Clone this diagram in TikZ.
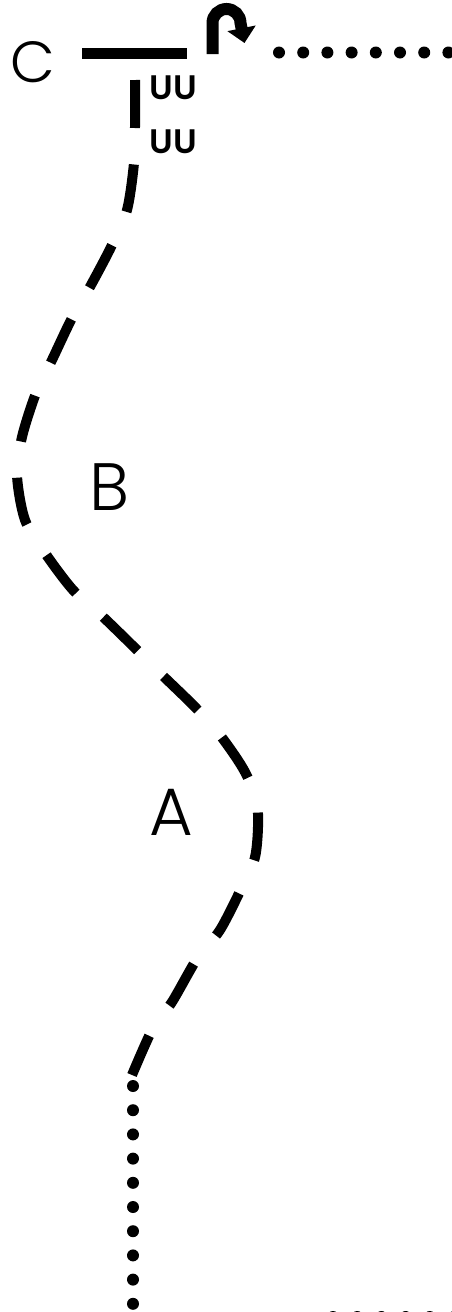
\documentclass[tikz,border=0pt]{standalone}
\usepackage{fontspec}
\setmainfont{Poppins}[UprightFont={* Light}]
\newfontfamily\uufont{Poppins}[UprightFont={* SemiBold}]
\usetikzlibrary{arrows.meta}
\tikzset{
  lbl/.style={inner sep=0pt, font=\fontsize{67}{67}\selectfont},
  lblc/.style={inner sep=0pt, font=\fontsize{58}{58}\selectfont},
  uu/.style={inner sep=0pt, font=\uufont\fontsize{34}{34}\selectfont},
  barline/.style={line width=11pt},
  hookline/.style={line width=12pt, -{Triangle[width=28pt,length=15pt]}},
  dashcurve/.style={line width=10pt, dash pattern=on 48pt off 36.5pt},
  dotline/.style={line width=12pt, line cap=round, dash pattern=on 0pt off 24.2pt},
}
\begin{document}
\begin{tikzpicture}[x=1pt,y=-1pt]
  \useasboundingbox (0,0) rectangle (452,1312);
  % labels
  \node[lblc] (C) at (33,62) {C};
  \node[lbl] (B) at (109,487) {B};
  \node[lbl] (A) at (171,812) {A};
  \node[uu] (uu1) at (173,88) {UU};
  \node[uu] (uu2) at (173,142) {UU};
  % coordinates
  \coordinate (b1) at (82,53.5);
  \coordinate (b2) at (187,53.5);
  \coordinate (hs) at (212.5,54);
  \coordinate (d1) at (279,52.5);
  \coordinate (d2) at (470,52.5);
  \coordinate (cs) at (135,80);
  \coordinate (ce) at (132,1075);
  \coordinate (v1) at (133,1086);
  \coordinate (v2) at (133,1304);
  \coordinate (h1) at (333,1317);
  \coordinate (h2) at (480,1317);
  % top bar
  \draw[barline] (b1) -- (b2);
  % hook arrow
  \draw[hookline] (hs) -- (212.5,23) arc[start angle=180, end angle=360, radius=14] -- ++(4,20);
  % top-right dots
  \draw[dotline] (d1) -- (d2);
  % dashed backbone
  \draw[dashcurve] plot[smooth, tension=0.5] coordinates {
    (135,80) (135,127) (134,163) (127,210) (112,245) (91,285) (72,318) (52,360)
    (36,393) (22,437) (17,475) (25,520) (45,553) (73,590) (101,615) (135,648)
    (160,673) (195,707) (220,735) (245,772) (257.5,807) (255.5,855) (242,887)
    (220,930) (198,957) (172,1002) (153,1028) (132,1075)};
  % vertical dots
  \draw[dotline] (v1) -- (v2);
  % bottom dots
  \draw[dotline] (h1) -- (h2);
\end{tikzpicture}
\end{document}
